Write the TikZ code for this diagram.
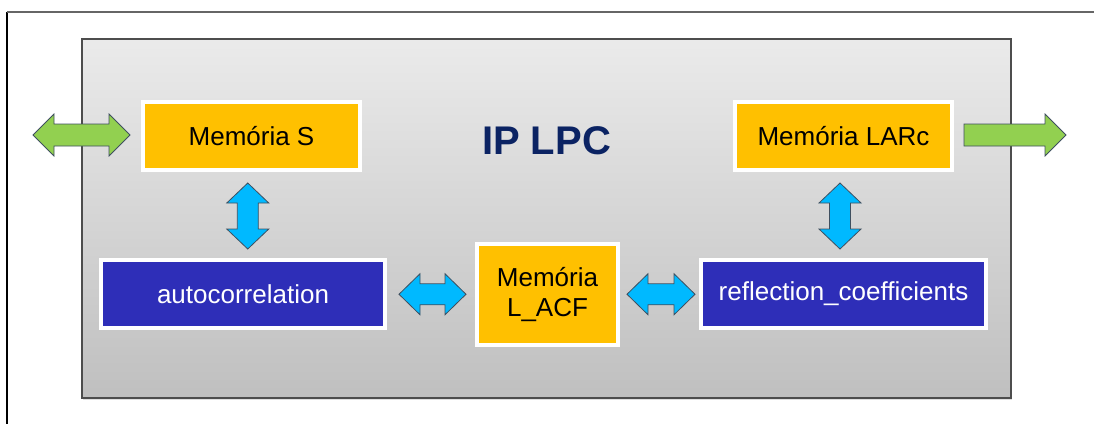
\documentclass[tikz,border=0pt]{standalone}
\usepackage{fontspec}
\setmainfont{Liberation Sans}
\usetikzlibrary{shadows,calc}
\definecolor{orangebox}{HTML}{FFC000}
\definecolor{bluebox}{HTML}{2E2EB8}
\definecolor{cyanarrow}{HTML}{00B9FF}
\definecolor{greenarrow}{HTML}{92D050}
\definecolor{navytext}{HTML}{0B2363}
\definecolor{panelborder}{HTML}{4D4D4D}
\definecolor{arrowline}{HTML}{3F4F5F}
\tikzset{
  blk/.style={draw=white, line width=4pt, inner sep=0pt, align=center,
    font=\fontsize{26}{30}\selectfont,
    drop shadow={shadow xshift=1pt, shadow yshift=-2pt, opacity=0.35, fill=black!60}},
  mem/.style={blk, fill=orangebox, text=black},
  proc/.style={blk, fill=bluebox, text=white},
  blockarrow/.style={draw=arrowline, line width=0.8pt, line join=miter},
  pics/hdbl/.style n args={4}{code={
    \path[pic actions] (-#1,0) -- (-#1+#2,#3) -- (-#1+#2,#4) -- (#1-#2,#4) -- (#1-#2,#3)
      -- (#1,0) -- (#1-#2,-#3) -- (#1-#2,-#4) -- (-#1+#2,-#4) -- (-#1+#2,-#3) -- cycle;
  }},
  pics/hsgl/.style n args={4}{code={
    \path[pic actions] (-#1,-#4) -- (#1-#2,-#4) -- (#1-#2,-#3) -- (#1,0) -- (#1-#2,#3)
      -- (#1-#2,#4) -- (-#1,#4) -- cycle;
  }}
}
\begin{document}
\begin{tikzpicture}[x=1pt,y=-1pt]
\useasboundingbox (0,0) rectangle (1094,424);
% outer frame lines
\draw[line width=1.5pt, black] (7,12) -- (7,424);
\draw[line width=2pt, black!60] (7,12) -- (1094,12);
% panel
\node[draw=panelborder, line width=2pt, top color=black!8, bottom color=black!25,
  minimum width=929pt, minimum height=359pt, inner sep=0pt,
  drop shadow={shadow xshift=1pt, shadow yshift=-2pt, opacity=0.25}] (panel) at (546.5,218.5) {};
% title
\node[text=navytext, font=\fontsize{40}{48}\bfseries\selectfont, inner sep=0pt] (title) at (546.5,141) {IP LPC};
% blocks
\node[mem, minimum width=217pt, minimum height=68pt] (ms) at (251.5,136) {Memória S};
\node[mem, minimum width=217pt, minimum height=68pt] (mlarc) at (843.5,136) {Memória LARc};
\node[proc, minimum width=284pt, minimum height=68pt] (ac) at (243,294) {autocorrelation};
\node[mem, minimum width=141pt, minimum height=101pt] (lacf) at (547.5,294.5) {Memória\\L\_ACF};
\node[proc, minimum width=285pt, minimum height=68pt] (rc) at (843.5,294) {reflection\_coefficients};
% green arrows
\pic[blockarrow, fill=greenarrow] (gin) at ($(ms.west)+(-59.5,-1)$) {hdbl={48.5}{21}{21}{11}};
\pic[blockarrow, fill=greenarrow] (gout) at ($(mlarc.east)+(61,-1)$) {hsgl={51}{21}{21}{11}};
% cyan arrows
\pic[blockarrow, fill=cyanarrow, rotate=90] (a1) at ($(ms.south)!0.5!(ac.north)+(0.5,1)$) {hdbl={33}{20}{21}{10.5}};
\pic[blockarrow, fill=cyanarrow, rotate=90] (a2) at ($(mlarc.south)!0.5!(rc.north)+(-3.5,1)$) {hdbl={33}{20}{21}{10.5}};
\pic[blockarrow, fill=cyanarrow] (a3) at ($(ac.east)!0.5!(lacf.west)+(1.5,0)$) {hdbl={33.5}{21}{20.5}{10.5}};
\pic[blockarrow, fill=cyanarrow] (a4) at ($(lacf.east)!0.5!(rc.west)+(1.5,0)$) {hdbl={34}{21}{20.5}{10.5}};
\end{tikzpicture}
\end{document}
